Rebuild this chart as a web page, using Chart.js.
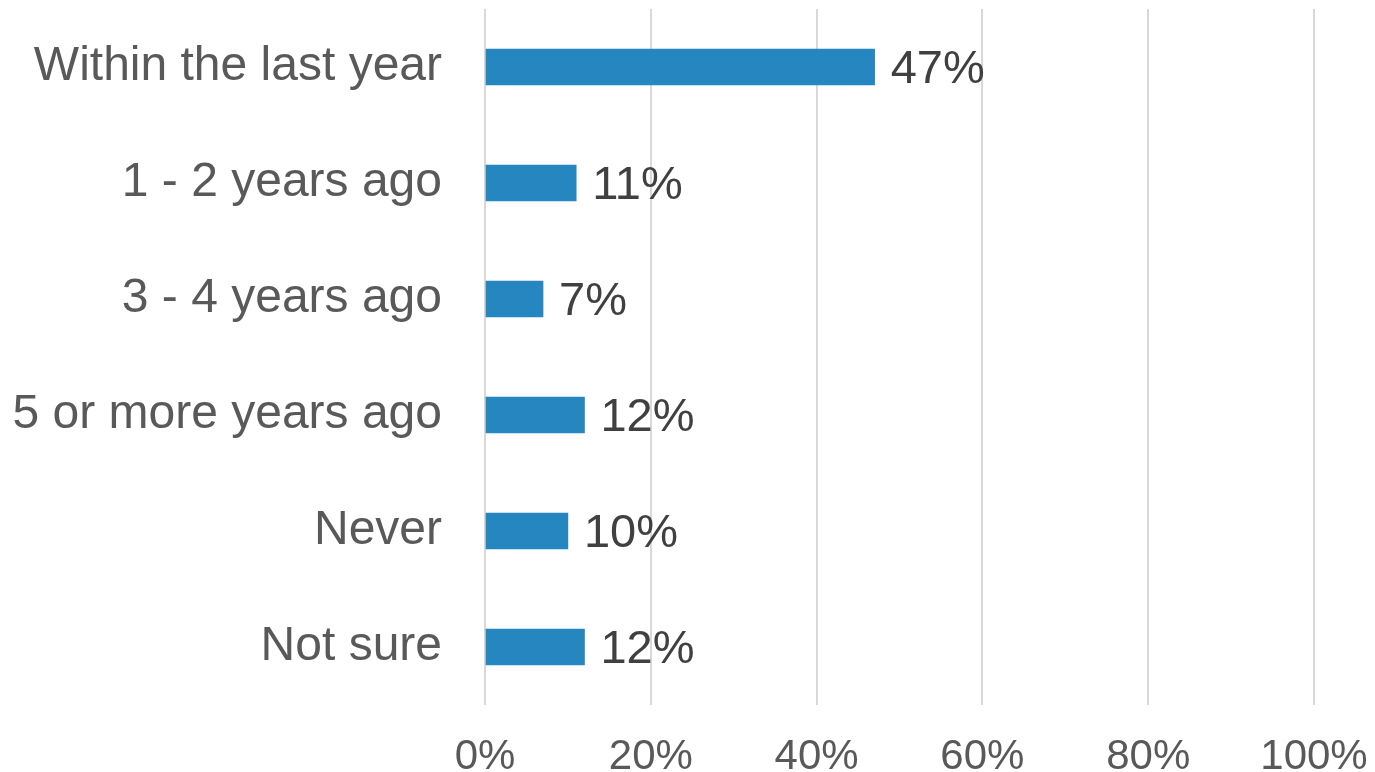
<!DOCTYPE html>
<html>
<head>
<meta charset="utf-8">
<script src="https://cdn.jsdelivr.net/npm/chart.js@4/dist/chart.umd.min.js"></script>
<style>
  html, body { margin: 0; padding: 0; background: #ffffff; }
  #wrap { width: 1375px; height: 772px; }
</style>
</head>
<body>
<div id="wrap"><canvas id="c" width="1375" height="772"></canvas></div>
<script>
const categories = ["Within the last year", "1 - 2 years ago", "3 - 4 years ago", "5 or more years ago", "Never", "Not sure"];
const values = [47, 11, 7, 12, 10, 12];
const tickValues = [0, 20, 40, 60, 80, 100];

const dataLabels = {
  id: 'dataLabels',
  afterDatasetsDraw(chart) {
    const ctx = chart.ctx;
    const meta = chart.getDatasetMeta(0);
    ctx.save();
    ctx.font = '47px "Liberation Sans", Arial, sans-serif';
    ctx.fillStyle = '#404040';
    ctx.textAlign = 'left';
    ctx.textBaseline = 'middle';
    meta.data.forEach((bar, i) => {
      ctx.fillText(values[i] + '%', bar.x + 16, bar.y + 3);
    });
    ctx.restore();
  }
};

new Chart(document.getElementById('c'), {
  type: 'bar',
  data: {
    labels: categories,
    datasets: [{
      data: values,
      backgroundColor: '#2686C0',
      borderWidth: 0,
      barThickness: 36
    }]
  },
  options: {
    indexAxis: 'y',
    responsive: false,
    animation: false,
    devicePixelRatio: 1,
    layout: { padding: { top: 9, right: 61, left: 0, bottom: 0 } },
    plugins: { legend: { display: false }, tooltip: { enabled: false } },
    scales: {
      x: {
        min: 0, max: 100,
        afterBuildTicks(axis) { axis.ticks = tickValues.map(v => ({ value: v })); },
        afterFit(axis) { axis.height = 67; axis.paddingLeft = 0; axis.paddingRight = 0; },
        border: { display: false },
        grid: { color: '#d9d9d9', lineWidth: 2, drawTicks: false },
        ticks: {
          padding: 27,
          color: '#595959',
          font: { family: '"Liberation Sans", Arial, sans-serif', size: 42 },
          callback: v => v + '%'
        }
      },
      y: {
        afterFit(axis) { axis.width = 485; axis.paddingTop = 0; axis.paddingBottom = 0; },
        border: { display: false },
        grid: { display: false, drawTicks: false },
        ticks: {
          padding: 43,
          color: '#595959',
          font: { family: '"Liberation Sans", Arial, sans-serif', size: 48 }
        }
      }
    }
  },
  plugins: [dataLabels]
});
</script>
</body>
</html>
